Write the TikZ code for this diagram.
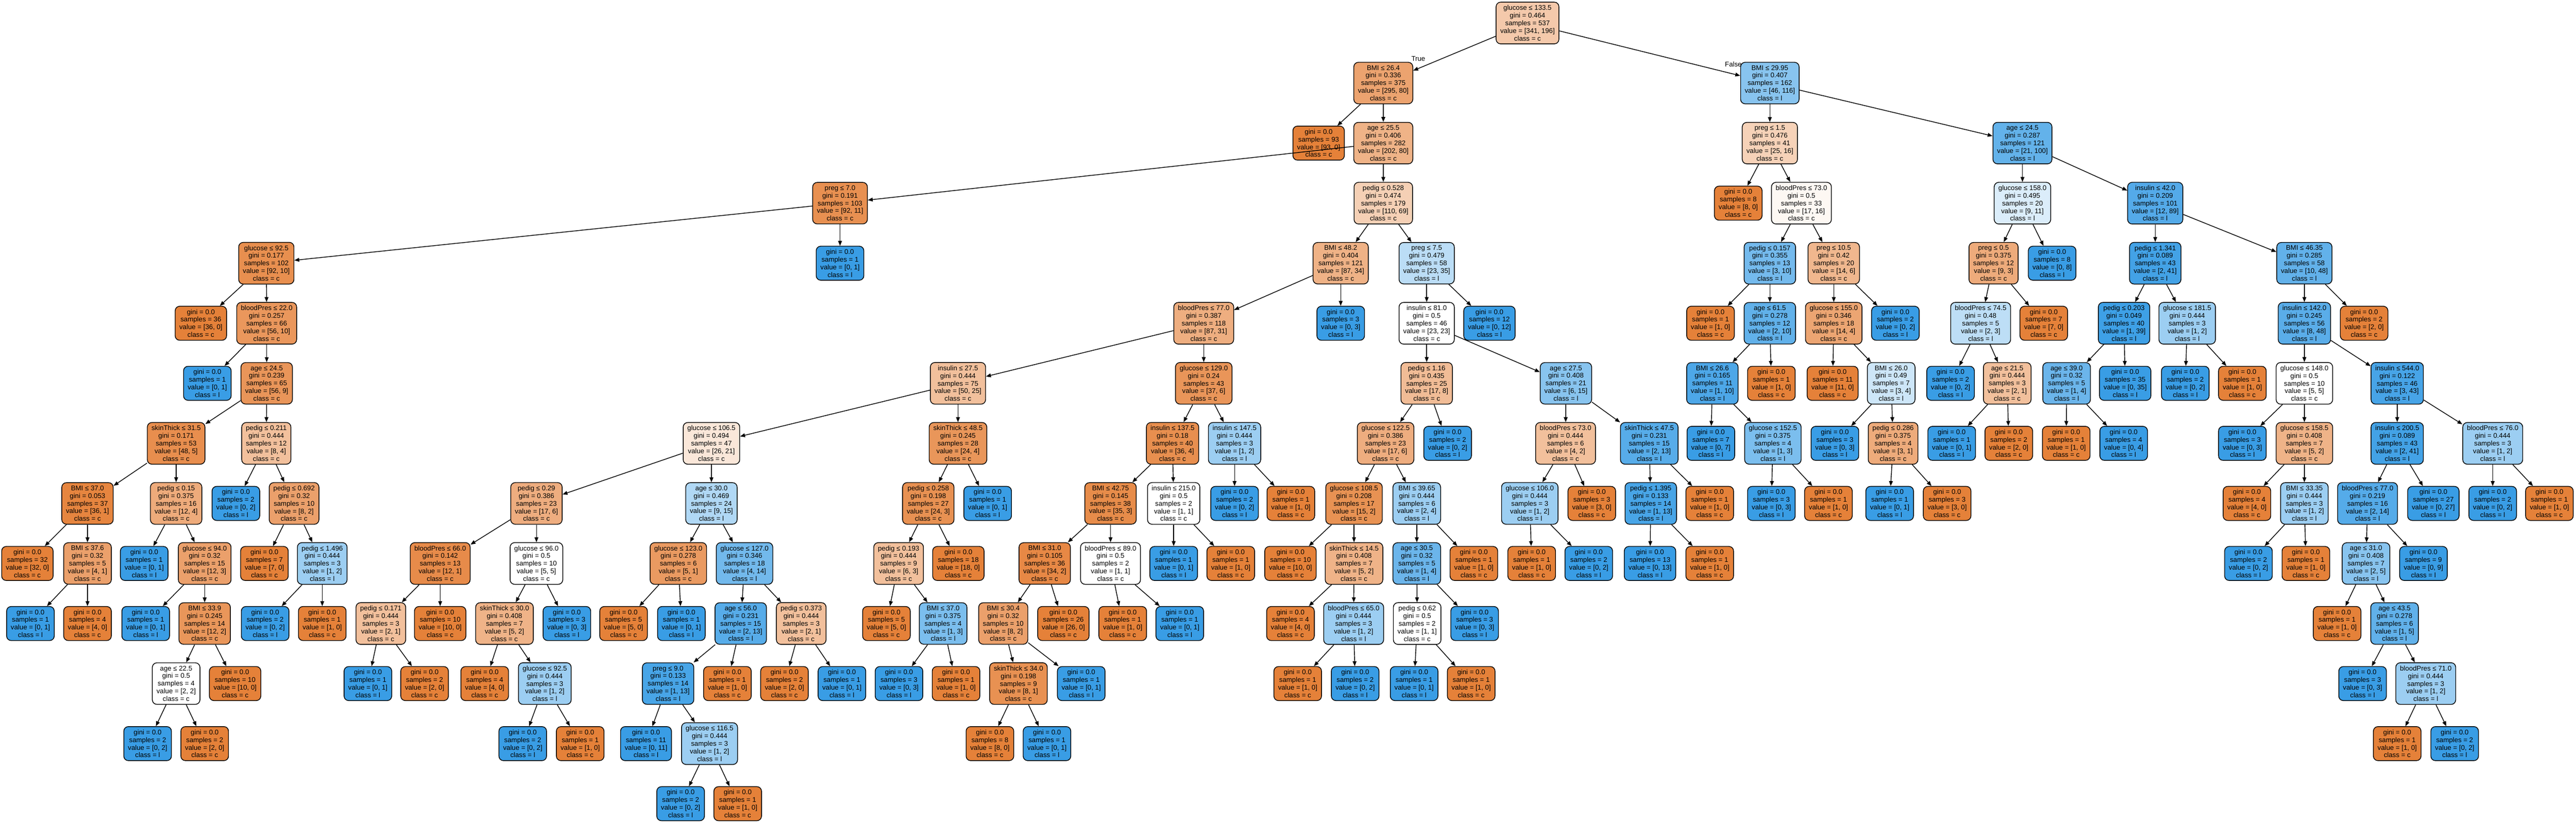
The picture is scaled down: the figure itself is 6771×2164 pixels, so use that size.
\documentclass[tikz,border=0pt]{standalone}
\usepackage{fontspec}
\setmainfont{Liberation Sans}
\usetikzlibrary{arrows.meta}

\definecolor{clsc}{HTML}{E58139}
\definecolor{clsl}{HTML}{399DE5}

\tikzset{
  tn/.style={draw, line width=0.55pt, rounded corners=0.12cm, align=center,
    inner xsep=0.11cm, inner ysep=0.08cm, font=\fontsize{5.1pt}{5.72pt}\selectfont},
  val/.code 2 args={%
    \pgfmathsetmacro\vmax{max(#1,#2)/(#1+#2)}%
    \pgfmathsetmacro\vmix{100*(2*\vmax-1)/\vmax}%
    \ifnum#1<#2 \def\vbase{clsl}\else\def\vbase{clsc}\fi
    \edef\vtmp{\noexpand\pgfkeysalso{fill=\vbase!\vmix!white}}\vtmp},
  arr/.style={-{Triangle[length=0.13cm,width=0.1cm]}, line width=0.55pt},
  lbl/.style={font=\fontsize{5.1pt}{5.72pt}\selectfont, inner sep=0pt},
}

\newcommand{\tsplit}[8]{\node[tn,val={#7}{#8}] (#1) at ({#2},{60.5+157.9*#3}) {#4\\gini = #5\\samples = #6\\value = [#7, #8]\\class = \ifnum#7<#8 l\else c\fi};}
\newcommand{\tleaf}[6]{\node[tn,val={#5}{#6}] (#1) at ({#2},{60.5+157.9*#3}) {gini = 0.0\\samples = #4\\value = [#5, #6]\\class = \ifnum#5<#6 l\else c\fi};}

\begin{document}
\begin{tikzpicture}[x=0.01cm,y=-0.01cm]
\useasboundingbox (0,0) rectangle (6771,2164);

\tsplit{r}{4015}{0}{glucose ≤ 133.5}{0.464}{537}{341}{196}

\tsplit{a}{3636}{1}{BMI ≤ 26.4}{0.336}{375}{295}{80}
\tleaf{a1}{3466}{2}{93}{93}{0}
\tsplit{a2}{3636}{2}{age ≤ 25.5}{0.406}{282}{202}{80}
\tsplit{b}{2208}{3}{preg ≤ 7.0}{0.191}{103}{92}{11}
\tsplit{b1}{700}{4}{glucose ≤ 92.5}{0.177}{102}{92}{10}
\tleaf{b2}{2208}{4}{1}{0}{1}
\tleaf{b11}{528}{5}{36}{36}{0}
\tsplit{b12}{701}{5}{bloodPres ≤ 22.0}{0.257}{66}{56}{10}
\tleaf{b121}{545}{6}{1}{0}{1}
\tsplit{b122}{701}{6}{age ≤ 24.5}{0.239}{65}{56}{9}
\tsplit{c}{463}{7}{skinThick ≤ 31.5}{0.171}{53}{48}{5}
\tsplit{d}{700}{7}{pedig ≤ 0.211}{0.444}{12}{8}{4}
\tsplit{c1}{230}{8}{BMI ≤ 37.0}{0.053}{37}{36}{1}
\tsplit{c2}{463}{8}{pedig ≤ 0.15}{0.375}{16}{12}{4}
\tleaf{c11}{72}{9}{32}{32}{0}
\tsplit{c12}{230}{9}{BMI ≤ 37.6}{0.32}{5}{4}{1}
\tleaf{c121}{80}{10}{1}{0}{1}
\tleaf{c122}{230}{10}{4}{4}{0}
\tleaf{c21}{379}{9}{1}{0}{1}
\tsplit{c22}{538}{9}{glucose ≤ 94.0}{0.32}{15}{12}{3}
\tleaf{c221}{383}{10}{1}{0}{1}
\tsplit{c222}{538}{10}{BMI ≤ 33.9}{0.245}{14}{12}{2}
\tsplit{c2221}{463}{11}{age ≤ 22.5}{0.5}{4}{2}{2}
\tleaf{c2222}{618}{11}{10}{10}{0}
\tleaf{c22211}{388}{12}{2}{0}{2}
\tleaf{c22212}{538}{12}{2}{2}{0}
\tleaf{d1}{620}{8}{2}{0}{2}
\tsplit{d2}{773}{8}{pedig ≤ 0.692}{0.32}{10}{8}{2}
\tleaf{d21}{695}{9}{7}{7}{0}
\tsplit{d22}{847}{9}{pedig ≤ 1.496}{0.444}{3}{1}{2}
\tleaf{d221}{697}{10}{2}{0}{2}
\tleaf{d222}{847}{10}{1}{1}{0}

\tsplit{e}{3636}{3}{pedig ≤ 0.528}{0.474}{179}{110}{69}
\tsplit{e1}{3524}{4}{BMI ≤ 48.2}{0.404}{121}{87}{34}
\tsplit{e2}{3750}{4}{preg ≤ 7.5}{0.479}{58}{23}{35}
\tsplit{f}{3164}{5}{bloodPres ≤ 77.0}{0.387}{118}{87}{31}
\tleaf{e12}{3524}{5}{3}{0}{3}
\tsplit{g}{2518}{6}{insulin ≤ 27.5}{0.444}{75}{50}{25}
\tsplit{h}{3164}{6}{glucose ≤ 129.0}{0.24}{43}{37}{6}
\tsplit{g1}{1870}{7}{glucose ≤ 106.5}{0.494}{47}{26}{21}
\tsplit{g2}{2518}{7}{skinThick ≤ 48.5}{0.245}{28}{24}{4}
\tsplit{g11}{1410}{8}{pedig ≤ 0.29}{0.386}{23}{17}{6}
\tsplit{g12}{1870}{8}{age ≤ 30.0}{0.469}{24}{9}{15}
\tsplit{g111}{1157}{9}{bloodPres ≤ 66.0}{0.142}{13}{12}{1}
\tsplit{g112}{1410}{9}{glucose ≤ 96.0}{0.5}{10}{5}{5}
\tsplit{g1111}{1001}{10}{pedig ≤ 0.171}{0.444}{3}{2}{1}
\tleaf{g1112}{1157}{10}{10}{10}{0}
\tleaf{g11111}{967}{11}{1}{0}{1}
\tleaf{g11112}{1116}{11}{2}{2}{0}
\tsplit{g1121}{1326}{10}{skinThick ≤ 30.0}{0.408}{7}{5}{2}
\tleaf{g1122}{1490}{10}{3}{0}{3}
\tleaf{g11211}{1274}{11}{4}{4}{0}
\tsplit{g11212}{1432}{11}{glucose ≤ 92.5}{0.444}{3}{1}{2}
\tleaf{g112121}{1374}{12}{2}{0}{2}
\tleaf{g112122}{1525}{12}{1}{1}{0}
\tsplit{g121}{1783}{9}{glucose ≤ 123.0}{0.278}{6}{5}{1}
\tsplit{g122}{1957}{9}{glucose ≤ 127.0}{0.346}{18}{4}{14}
\tleaf{g1211}{1639}{10}{5}{5}{0}
\tleaf{g1212}{1791}{10}{1}{0}{1}
\tsplit{g1221}{1947}{10}{age ≤ 56.0}{0.231}{15}{2}{13}
\tsplit{g1222}{2106}{10}{pedig ≤ 0.373}{0.444}{3}{2}{1}
\tsplit{g12211}{1756}{11}{preg ≤ 9.0}{0.133}{14}{1}{13}
\tleaf{g12212}{1912}{11}{1}{1}{0}
\tleaf{g122111}{1698}{12}{11}{0}{11}
\tsplit{g122112}{1865}{12}{glucose ≤ 116.5}{0.444}{3}{1}{2}
\tleaf{g1221121}{1789}{13}{2}{0}{2}
\tleaf{g1221122}{1939}{13}{1}{1}{0}
\tleaf{g12221}{2062}{11}{2}{2}{0}
\tleaf{g12222}{2213}{11}{1}{0}{1}
\tsplit{g21}{2440}{8}{pedig ≤ 0.258}{0.198}{27}{24}{3}
\tleaf{g22}{2596}{8}{1}{0}{1}
\tsplit{g211}{2362}{9}{pedig ≤ 0.193}{0.444}{9}{6}{3}
\tleaf{g212}{2519}{9}{18}{18}{0}
\tleaf{g2111}{2330}{10}{5}{5}{0}
\tsplit{g2112}{2479}{10}{BMI ≤ 37.0}{0.375}{4}{1}{3}
\tleaf{g21121}{2363}{11}{3}{0}{3}
\tleaf{g21122}{2513}{11}{1}{1}{0}
\tsplit{h1}{3082}{7}{insulin ≤ 137.5}{0.18}{40}{36}{4}
\tsplit{h2}{3245}{7}{insulin ≤ 147.5}{0.444}{3}{1}{2}
\tsplit{h11}{2919}{8}{BMI ≤ 42.75}{0.145}{38}{35}{3}
\tsplit{h12}{3085}{8}{insulin ≤ 215.0}{0.5}{2}{1}{1}
\tsplit{h111}{2746}{9}{BMI ≤ 31.0}{0.105}{36}{34}{2}
\tsplit{h112}{2919}{9}{bloodPres ≤ 89.0}{0.5}{2}{1}{1}
\tsplit{h1111}{2637}{10}{BMI ≤ 30.4}{0.32}{10}{8}{2}
\tleaf{h1112}{2795}{10}{26}{26}{0}
\tsplit{h11111}{2677}{11}{skinThick ≤ 34.0}{0.198}{9}{8}{1}
\tleaf{h11112}{2842}{11}{1}{0}{1}
\tleaf{h111111}{2602}{12}{8}{8}{0}
\tleaf{h111112}{2752}{12}{1}{0}{1}
\tleaf{h1121}{2951}{10}{1}{1}{0}
\tleaf{h1122}{3101}{10}{1}{0}{1}
\tleaf{h121}{3085}{9}{1}{0}{1}
\tleaf{h122}{3235}{9}{1}{1}{0}
\tleaf{h21}{3245}{8}{2}{0}{2}
\tleaf{h22}{3393}{8}{1}{1}{0}

\tsplit{e21}{3750}{5}{insulin ≤ 81.0}{0.5}{46}{23}{23}
\tleaf{e22}{3915}{5}{12}{0}{12}
\tsplit{i}{3750}{6}{pedig ≤ 1.16}{0.435}{25}{17}{8}
\tsplit{j}{4116}{6}{age ≤ 27.5}{0.408}{21}{6}{15}
\tsplit{i1}{3642}{7}{glucose ≤ 122.5}{0.386}{23}{17}{6}
\tleaf{i2}{3805}{7}{2}{0}{2}
\tsplit{i11}{3559}{8}{glucose ≤ 108.5}{0.208}{17}{15}{2}
\tsplit{i12}{3724}{8}{BMI ≤ 39.65}{0.444}{6}{2}{4}
\tleaf{i111}{3392}{9}{10}{10}{0}
\tsplit{i112}{3559}{9}{skinThick ≤ 14.5}{0.408}{7}{5}{2}
\tleaf{i1121}{3392}{10}{4}{4}{0}
\tsplit{i1122}{3558}{10}{bloodPres ≤ 65.0}{0.444}{3}{1}{2}
\tleaf{i11221}{3411}{11}{1}{1}{0}
\tleaf{i11222}{3562}{11}{2}{0}{2}
\tsplit{i121}{3724}{9}{age ≤ 30.5}{0.32}{5}{1}{4}
\tleaf{i122}{3874}{9}{1}{1}{0}
\tsplit{i1211}{3725}{10}{pedig ≤ 0.62}{0.5}{2}{1}{1}
\tleaf{i1212}{3876}{10}{3}{0}{3}
\tleaf{i12111}{3717}{11}{1}{0}{1}
\tleaf{i12112}{3867}{11}{1}{1}{0}
\tsplit{j1}{4115}{7}{bloodPres ≤ 73.0}{0.444}{6}{4}{2}
\tsplit{j2}{4335}{7}{skinThick ≤ 47.5}{0.231}{15}{2}{13}
\tsplit{j11}{4021}{8}{glucose ≤ 106.0}{0.444}{3}{1}{2}
\tleaf{j12}{4184}{8}{3}{3}{0}
\tleaf{j111}{4026}{9}{1}{1}{0}
\tleaf{j112}{4176}{9}{2}{0}{2}
\tsplit{j21}{4339}{8}{pedig ≤ 1.395}{0.133}{14}{1}{13}
\tleaf{j22}{4494}{8}{1}{1}{0}
\tleaf{j211}{4337}{9}{13}{0}{13}
\tleaf{j212}{4494}{9}{1}{1}{0}

\tsplit{k}{4652}{1}{BMI ≤ 29.95}{0.407}{162}{46}{116}
\tsplit{k1}{4652}{2}{preg ≤ 1.5}{0.476}{41}{25}{16}
\tleaf{k11}{4569}{3}{8}{8}{0}
\tsplit{k12}{4735}{3}{bloodPres ≤ 73.0}{0.5}{33}{17}{16}
\tsplit{m}{4652}{4}{pedig ≤ 0.157}{0.355}{13}{3}{10}
\tsplit{n}{4820}{4}{preg ≤ 10.5}{0.42}{20}{14}{6}
\tleaf{m1}{4496}{5}{1}{1}{0}
\tsplit{m2}{4652}{5}{age ≤ 61.5}{0.278}{12}{2}{10}
\tsplit{m21}{4501}{6}{BMI ≤ 26.6}{0.165}{11}{1}{10}
\tleaf{m22}{4656}{6}{1}{1}{0}
\tleaf{m211}{4497}{7}{7}{0}{7}
\tsplit{m212}{4660}{7}{glucose ≤ 152.5}{0.375}{4}{1}{3}
\tleaf{m2121}{4656}{8}{3}{0}{3}
\tleaf{m2122}{4806}{8}{1}{1}{0}
\tsplit{n1}{4820}{5}{glucose ≤ 155.0}{0.346}{18}{14}{4}
\tleaf{n2}{4982}{5}{2}{0}{2}
\tleaf{n11}{4817}{6}{11}{11}{0}
\tsplit{n12}{4971}{6}{BMI ≤ 26.0}{0.49}{7}{3}{4}
\tleaf{n121}{4823}{7}{3}{0}{3}
\tsplit{n122}{4976}{7}{pedig ≤ 0.286}{0.375}{4}{3}{1}
\tleaf{n1221}{4967}{8}{1}{0}{1}
\tleaf{n1222}{5118}{8}{3}{3}{0}

\tsplit{k2}{5316}{2}{age ≤ 24.5}{0.287}{121}{21}{100}
\tsplit{p}{5316}{3}{glucose ≤ 158.0}{0.495}{20}{9}{11}
\tsplit{q}{5665}{3}{insulin ≤ 42.0}{0.209}{101}{12}{89}
\tsplit{p1}{5240}{4}{preg ≤ 0.5}{0.375}{12}{9}{3}
\tleaf{p2}{5394}{4}{8}{0}{8}
\tsplit{p11}{5206}{5}{bloodPres ≤ 74.5}{0.48}{5}{2}{3}
\tleaf{p12}{5372}{5}{7}{7}{0}
\tleaf{p111}{5127}{6}{2}{0}{2}
\tsplit{p112}{5276}{6}{age ≤ 21.5}{0.444}{3}{2}{1}
\tleaf{p1121}{5130}{7}{1}{0}{1}
\tleaf{p1122}{5280}{7}{2}{2}{0}
\tsplit{q1}{5665}{4}{pedig ≤ 1.341}{0.089}{43}{2}{41}
\tsplit{q2}{6057}{4}{BMI ≤ 46.35}{0.285}{58}{10}{48}
\tsplit{q11}{5583}{5}{pedig ≤ 0.203}{0.049}{40}{1}{39}
\tsplit{q12}{5749}{5}{glucose ≤ 181.5}{0.444}{3}{1}{2}
\tsplit{q111}{5432}{6}{age ≤ 39.0}{0.32}{5}{1}{4}
\tleaf{q112}{5586}{6}{35}{0}{35}
\tleaf{q1111}{5431}{7}{1}{1}{0}
\tleaf{q1112}{5582}{7}{4}{0}{4}
\tleaf{q121}{5744}{6}{2}{0}{2}
\tleaf{q122}{5894}{6}{1}{1}{0}
\tsplit{q21}{6057}{5}{insulin ≤ 142.0}{0.245}{56}{8}{48}
\tleaf{q22}{6214}{5}{2}{2}{0}
\tsplit{s}{6057}{6}{glucose ≤ 148.0}{0.5}{10}{5}{5}
\tsplit{t}{6301}{6}{insulin ≤ 544.0}{0.122}{46}{3}{43}
\tleaf{s1}{5894}{7}{3}{0}{3}
\tsplit{s2}{6057}{7}{glucose ≤ 158.5}{0.408}{7}{5}{2}
\tleaf{s21}{5906}{8}{4}{4}{0}
\tsplit{s22}{6057}{8}{BMI ≤ 33.35}{0.444}{3}{1}{2}
\tleaf{s221}{5910}{9}{2}{0}{2}
\tleaf{s222}{6061}{9}{1}{1}{0}
\tsplit{t1}{6301}{7}{insulin ≤ 200.5}{0.089}{43}{2}{41}
\tsplit{t2}{6552}{7}{bloodPres ≤ 76.0}{0.444}{3}{1}{2}
\tsplit{t11}{6223}{8}{bloodPres ≤ 77.0}{0.219}{16}{2}{14}
\tleaf{t12}{6396}{8}{27}{0}{27}
\tsplit{t111}{6219}{9}{age ≤ 31.0}{0.408}{7}{2}{5}
\tleaf{t112}{6370}{9}{9}{0}{9}
\tleaf{t1111}{6143}{10}{1}{1}{0}
\tsplit{t1112}{6294}{10}{age ≤ 43.5}{0.278}{6}{1}{5}
\tleaf{t11121}{6210}{11}{3}{0}{3}
\tsplit{t11122}{6376}{11}{bloodPres ≤ 71.0}{0.444}{3}{1}{2}
\tleaf{t111221}{6301}{12}{1}{1}{0}
\tleaf{t111222}{6452}{12}{2}{0}{2}
\tleaf{t21}{6552}{8}{2}{0}{2}
\tleaf{t22}{6701}{8}{1}{1}{0}

\node[lbl] (tru) at (3728,154) {True};
\node[lbl] (fal) at (4556,169) {False};

\draw[arr] (r) -- (a); \draw[arr] (r) -- (k);
\draw[arr] (a) -- (a1); \draw[arr] (a) -- (a2);
\draw[arr] (a2) -- (b); \draw[arr] (a2) -- (e);
\draw[arr] (b) -- (b1); \draw[arr] (b) -- (b2);
\draw[arr] (b1) -- (b11); \draw[arr] (b1) -- (b12);
\draw[arr] (b12) -- (b121); \draw[arr] (b12) -- (b122);
\draw[arr] (b122) -- (c); \draw[arr] (b122) -- (d);
\draw[arr] (c) -- (c1); \draw[arr] (c) -- (c2);
\draw[arr] (c1) -- (c11); \draw[arr] (c1) -- (c12);
\draw[arr] (c12) -- (c121); \draw[arr] (c12) -- (c122);
\draw[arr] (c2) -- (c21); \draw[arr] (c2) -- (c22);
\draw[arr] (c22) -- (c221); \draw[arr] (c22) -- (c222);
\draw[arr] (c222) -- (c2221); \draw[arr] (c222) -- (c2222);
\draw[arr] (c2221) -- (c22211); \draw[arr] (c2221) -- (c22212);
\draw[arr] (d) -- (d1); \draw[arr] (d) -- (d2);
\draw[arr] (d2) -- (d21); \draw[arr] (d2) -- (d22);
\draw[arr] (d22) -- (d221); \draw[arr] (d22) -- (d222);
\draw[arr] (e) -- (e1); \draw[arr] (e) -- (e2);
\draw[arr] (e1) -- (f); \draw[arr] (e1) -- (e12);
\draw[arr] (f) -- (g); \draw[arr] (f) -- (h);
\draw[arr] (g) -- (g1); \draw[arr] (g) -- (g2);
\draw[arr] (g1) -- (g11); \draw[arr] (g1) -- (g12);
\draw[arr] (g11) -- (g111); \draw[arr] (g11) -- (g112);
\draw[arr] (g111) -- (g1111); \draw[arr] (g111) -- (g1112);
\draw[arr] (g1111) -- (g11111); \draw[arr] (g1111) -- (g11112);
\draw[arr] (g112) -- (g1121); \draw[arr] (g112) -- (g1122);
\draw[arr] (g1121) -- (g11211); \draw[arr] (g1121) -- (g11212);
\draw[arr] (g11212) -- (g112121); \draw[arr] (g11212) -- (g112122);
\draw[arr] (g12) -- (g121); \draw[arr] (g12) -- (g122);
\draw[arr] (g121) -- (g1211); \draw[arr] (g121) -- (g1212);
\draw[arr] (g122) -- (g1221); \draw[arr] (g122) -- (g1222);
\draw[arr] (g1221) -- (g12211); \draw[arr] (g1221) -- (g12212);
\draw[arr] (g12211) -- (g122111); \draw[arr] (g12211) -- (g122112);
\draw[arr] (g122112) -- (g1221121); \draw[arr] (g122112) -- (g1221122);
\draw[arr] (g1222) -- (g12221); \draw[arr] (g1222) -- (g12222);
\draw[arr] (g2) -- (g21); \draw[arr] (g2) -- (g22);
\draw[arr] (g21) -- (g211); \draw[arr] (g21) -- (g212);
\draw[arr] (g211) -- (g2111); \draw[arr] (g211) -- (g2112);
\draw[arr] (g2112) -- (g21121); \draw[arr] (g2112) -- (g21122);
\draw[arr] (h) -- (h1); \draw[arr] (h) -- (h2);
\draw[arr] (h1) -- (h11); \draw[arr] (h1) -- (h12);
\draw[arr] (h11) -- (h111); \draw[arr] (h11) -- (h112);
\draw[arr] (h111) -- (h1111); \draw[arr] (h111) -- (h1112);
\draw[arr] (h1111) -- (h11111); \draw[arr] (h1111) -- (h11112);
\draw[arr] (h11111) -- (h111111); \draw[arr] (h11111) -- (h111112);
\draw[arr] (h112) -- (h1121); \draw[arr] (h112) -- (h1122);
\draw[arr] (h12) -- (h121); \draw[arr] (h12) -- (h122);
\draw[arr] (h2) -- (h21); \draw[arr] (h2) -- (h22);
\draw[arr] (e2) -- (e21); \draw[arr] (e2) -- (e22);
\draw[arr] (e21) -- (i); \draw[arr] (e21) -- (j);
\draw[arr] (i) -- (i1); \draw[arr] (i) -- (i2);
\draw[arr] (i1) -- (i11); \draw[arr] (i1) -- (i12);
\draw[arr] (i11) -- (i111); \draw[arr] (i11) -- (i112);
\draw[arr] (i112) -- (i1121); \draw[arr] (i112) -- (i1122);
\draw[arr] (i1122) -- (i11221); \draw[arr] (i1122) -- (i11222);
\draw[arr] (i12) -- (i121); \draw[arr] (i12) -- (i122);
\draw[arr] (i121) -- (i1211); \draw[arr] (i121) -- (i1212);
\draw[arr] (i1211) -- (i12111); \draw[arr] (i1211) -- (i12112);
\draw[arr] (j) -- (j1); \draw[arr] (j) -- (j2);
\draw[arr] (j1) -- (j11); \draw[arr] (j1) -- (j12);
\draw[arr] (j11) -- (j111); \draw[arr] (j11) -- (j112);
\draw[arr] (j2) -- (j21); \draw[arr] (j2) -- (j22);
\draw[arr] (j21) -- (j211); \draw[arr] (j21) -- (j212);
\draw[arr] (k) -- (k1); \draw[arr] (k) -- (k2);
\draw[arr] (k1) -- (k11); \draw[arr] (k1) -- (k12);
\draw[arr] (k12) -- (m); \draw[arr] (k12) -- (n);
\draw[arr] (m) -- (m1); \draw[arr] (m) -- (m2);
\draw[arr] (m2) -- (m21); \draw[arr] (m2) -- (m22);
\draw[arr] (m21) -- (m211); \draw[arr] (m21) -- (m212);
\draw[arr] (m212) -- (m2121); \draw[arr] (m212) -- (m2122);
\draw[arr] (n) -- (n1); \draw[arr] (n) -- (n2);
\draw[arr] (n1) -- (n11); \draw[arr] (n1) -- (n12);
\draw[arr] (n12) -- (n121); \draw[arr] (n12) -- (n122);
\draw[arr] (n122) -- (n1221); \draw[arr] (n122) -- (n1222);
\draw[arr] (k2) -- (p); \draw[arr] (k2) -- (q);
\draw[arr] (p) -- (p1); \draw[arr] (p) -- (p2);
\draw[arr] (p1) -- (p11); \draw[arr] (p1) -- (p12);
\draw[arr] (p11) -- (p111); \draw[arr] (p11) -- (p112);
\draw[arr] (p112) -- (p1121); \draw[arr] (p112) -- (p1122);
\draw[arr] (q) -- (q1); \draw[arr] (q) -- (q2);
\draw[arr] (q1) -- (q11); \draw[arr] (q1) -- (q12);
\draw[arr] (q11) -- (q111); \draw[arr] (q11) -- (q112);
\draw[arr] (q111) -- (q1111); \draw[arr] (q111) -- (q1112);
\draw[arr] (q12) -- (q121); \draw[arr] (q12) -- (q122);
\draw[arr] (q2) -- (q21); \draw[arr] (q2) -- (q22);
\draw[arr] (q21) -- (s); \draw[arr] (q21) -- (t);
\draw[arr] (s) -- (s1); \draw[arr] (s) -- (s2);
\draw[arr] (s2) -- (s21); \draw[arr] (s2) -- (s22);
\draw[arr] (s22) -- (s221); \draw[arr] (s22) -- (s222);
\draw[arr] (t) -- (t1); \draw[arr] (t) -- (t2);
\draw[arr] (t1) -- (t11); \draw[arr] (t1) -- (t12);
\draw[arr] (t11) -- (t111); \draw[arr] (t11) -- (t112);
\draw[arr] (t111) -- (t1111); \draw[arr] (t111) -- (t1112);
\draw[arr] (t1112) -- (t11121); \draw[arr] (t1112) -- (t11122);
\draw[arr] (t11122) -- (t111221); \draw[arr] (t11122) -- (t111222);
\draw[arr] (t2) -- (t21); \draw[arr] (t2) -- (t22);
\end{tikzpicture}
\end{document}
